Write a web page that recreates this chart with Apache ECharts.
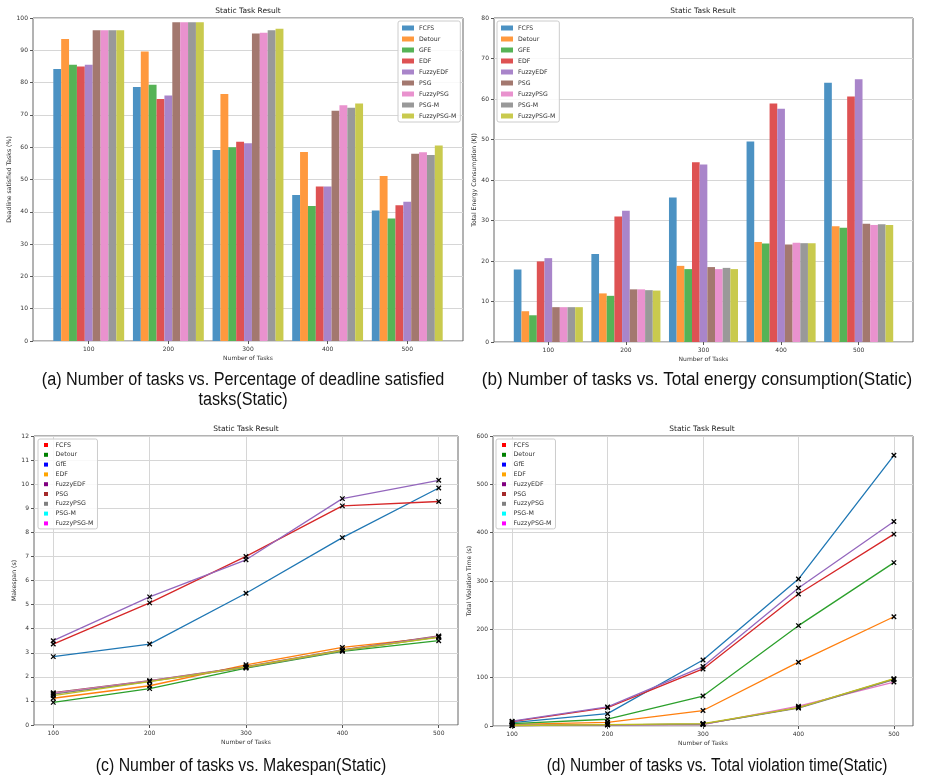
<!DOCTYPE html>
<html><head><meta charset="utf-8">
<script src="https://cdn.jsdelivr.net/npm/echarts@6/dist/echarts.min.js"></script>
<style>html,body{margin:0;padding:0;background:#fff}#c{width:929px;height:777px}</style>
</head><body><div id="c"></div>
<script>
// ---------- data ----------
const tasks = [100, 200, 300, 400, 500];
const tickLabels = ['100', '200', '300', '400', '500'];
const barAlgorithms = ['FCFS', 'Detour', 'GFE', 'EDF', 'FuzzyEDF', 'PSG', 'FuzzyPSG', 'PSG-M', 'FuzzyPSG-M'];
const lineAlgorithms = ['FCFS', 'Detour', 'GfE', 'EDF', 'FuzzyEDF', 'PSG', 'FuzzyPSG', 'PSG-M', 'FuzzyPSG-M'];

// (a) Deadline satisfied tasks (%)
const pctFCFS      = [84.2, 78.6, 59.1, 45.2, 40.4];
const pctDetour    = [93.5, 89.6, 76.5, 58.5, 51.1];
const pctGFE       = [85.5, 79.3, 60.0, 41.8, 37.9];
const pctEDF       = [85.0, 74.9, 61.7, 47.8, 42.0];
const pctFuzzyEDF  = [85.5, 76.0, 61.2, 47.8, 43.1];
const pctPSG       = [96.2, 98.7, 95.2, 71.3, 58.0];
const pctFuzzyPSG  = [96.2, 98.7, 95.4, 73.0, 58.4];
const pctPSGM      = [96.2, 98.7, 96.2, 72.2, 57.6];
const pctFuzzyPSGM = [96.2, 98.7, 96.7, 73.5, 60.5];

// (b) Total energy consumption (KJ)
const engFCFS      = [17.9, 21.7, 35.7, 49.5, 64.0];
const engDetour    = [7.6, 12.0, 18.8, 24.7, 28.6];
const engGFE       = [6.6, 11.4, 18.0, 24.3, 28.2];
const engEDF       = [19.9, 31.0, 44.4, 58.9, 60.6];
const engFuzzyEDF  = [20.7, 32.4, 43.8, 57.6, 64.9];
const engPSG       = [8.6, 13.0, 18.5, 24.1, 29.2];
const engFuzzyPSG  = [8.6, 13.0, 18.0, 24.5, 28.9];
const engPSGM      = [8.6, 12.8, 18.3, 24.4, 29.1];
const engFuzzyPSGM = [8.6, 12.7, 18.0, 24.4, 28.9];

// (c) Makespan (s)
const mksFCFS      = [2.84, 3.36, 5.47, 7.78, 9.84];
const mksDetour    = [1.11, 1.63, 2.50, 3.22, 3.65];
const mksGfE       = [0.94, 1.51, 2.36, 3.06, 3.50];
const mksEDF       = [3.36, 5.07, 7.00, 9.10, 9.28];
const mksFuzzyEDF  = [3.50, 5.32, 6.86, 9.40, 10.16];
const mksPSG       = [1.34, 1.84, 2.42, 3.12, 3.70];
const mksFuzzyPSG  = [1.32, 1.83, 2.40, 3.10, 3.68];
const mksPSGM      = [1.28, 1.81, 2.38, 3.08, 3.66];
const mksFuzzyPSGM = [1.22, 1.80, 2.40, 3.10, 3.64];

// (d) Total violation time (s)
const vioFCFS      = [7, 25.5, 136.5, 304, 560];
const vioDetour    = [3.5, 7.6, 32, 132, 226];
const vioGfE       = [5, 14, 62, 207.6, 338];
const vioEDF       = [9, 38, 118, 273, 397];
const vioFuzzyEDF  = [10, 39.5, 123, 285.5, 423];
const vioPSG       = [1, 2.5, 4, 38, 97];
const vioFuzzyPSG  = [1, 2.5, 3, 41, 91];
const vioPSGM      = [1, 2.5, 4, 37, 96];
const vioFuzzyPSGM = [1, 3, 5, 38, 98];

const pctSeries = [pctFCFS, pctDetour, pctGFE, pctEDF, pctFuzzyEDF, pctPSG, pctFuzzyPSG, pctPSGM, pctFuzzyPSGM];
const engSeries = [engFCFS, engDetour, engGFE, engEDF, engFuzzyEDF, engPSG, engFuzzyPSG, engPSGM, engFuzzyPSGM];
const mksSeries = [mksFCFS, mksDetour, mksGfE, mksEDF, mksFuzzyEDF, mksPSG, mksFuzzyPSG, mksPSGM, mksFuzzyPSGM];
const vioSeries = [vioFCFS, vioDetour, vioGfE, vioEDF, vioFuzzyEDF, vioPSG, vioFuzzyPSG, vioPSGM, vioFuzzyPSGM];

// ---------- styles ----------
const barColors = ['#4c92c3', '#ff993e', '#56b356', '#de5253', '#a985ca', '#a3786f', '#e992ce', '#999999', '#c9ca4e'];
const lineColors = ['#1f77b4', '#ff7f0e', '#2ca02c', '#d62728', '#9467bd', '#8c564b', '#e377c2', '#7f7f7f', '#bcbd22'];
const markerLegendColors = ['#ff0000', '#008000', '#0000ff', '#ffa500', '#800080', '#a52a2a', '#808080', '#00ffff', '#ff00ff'];

const FONT = 'DejaVu Sans';
const TXT = '#333';
const CAPFONT = '"Liberation Sans", Arial, sans-serif';

const chart = echarts.init(document.getElementById('c'), null, {renderer: 'canvas'});

const gridBase = {show: true, borderColor: '#666', borderWidth: 1, backgroundColor: 'transparent', containLabel: false, outerBoundsMode: 'none'};
const grids = [
  Object.assign({left: 33, top: 18, width: 430, height: 323}, gridBase),
  Object.assign({left: 494, top: 18, width: 419, height: 324}, gridBase),
  Object.assign({left: 34, top: 436, width: 424, height: 289}, gridBase),
  Object.assign({left: 493, top: 436, width: 420, height: 290}, gridBase)
];

function xAxisDef(gi, min, max, vgrid) {
  return {
    gridIndex: gi, type: 'value', min: min, max: max,
    name: 'Number of Tasks', nameLocation: 'middle', nameGap: 14,
    nameTextStyle: {fontFamily: FONT, fontSize: 6, color: TXT},
    axisLine: {show: false},
    axisTick: {show: true, customValues: tasks, length: 3, lineStyle: {color: '#555'}},
    axisLabel: {customValues: tasks, fontFamily: FONT, fontSize: 6, color: TXT, margin: 5,
      formatter: v => tickLabels[tasks.indexOf(v)] || ''},
    splitLine: {show: vgrid, customValues: tasks, lineStyle: {color: '#d6d6d6', width: 1}}
  };
}
function yAxisDef(gi, max, interval, name, nameGap) {
  return {
    gridIndex: gi, type: 'value', min: 0, max: max, interval: interval,
    name: name, nameLocation: 'middle', nameGap: nameGap, nameRotate: 90,
    nameTextStyle: {fontFamily: FONT, fontSize: 6.2, color: TXT},
    axisLine: {show: false},
    axisTick: {show: true, length: 3, lineStyle: {color: '#555'}},
    axisLabel: {fontFamily: FONT, fontSize: 6, color: TXT, margin: 5},
    splitLine: {show: true, lineStyle: {color: '#d6d6d6', width: 1}}
  };
}

const series = [];
function addBars(gi, arrs) {
  arrs.forEach((arr, i) => {
    series.push({
      type: 'bar', name: barAlgorithms[i], xAxisIndex: gi, yAxisIndex: gi,
      data: tasks.map((t, k) => [t, arr[k]]),
      barGap: '0%', barCategoryGap: '11%',
      itemStyle: {color: barColors[i]},
      emphasis: {disabled: true}
    });
  });
}
function addLines(gi, arrs) {
  arrs.forEach((arr, i) => {
    series.push({
      type: 'line', name: lineAlgorithms[i], xAxisIndex: gi, yAxisIndex: gi,
      data: tasks.map((t, k) => [t, arr[k]]),
      symbol: 'path://M0,0L10,10M10,0L0,10', symbolSize: 4.5, showAllSymbol: true,
      itemStyle: {color: '#000', borderColor: '#000', borderWidth: 1.3},
      lineStyle: {color: lineColors[i], width: 1.3},
      emphasis: {disabled: true}
    });
  });
}
addBars(0, pctSeries);
addBars(1, engSeries);
addLines(2, mksSeries);
addLines(3, vioSeries);

const legendBase = {
  orient: 'vertical', backgroundColor: 'rgba(255,255,255,0.85)',
  borderColor: '#cccccc', borderWidth: 1, borderRadius: 2,
  selectedMode: false, align: 'left'
};
const barLegend = (left) => Object.assign({}, legendBase, {
  left: left, top: 21, padding: [3, 4, 2, 4],
  itemWidth: 12, itemHeight: 5, itemGap: 3, icon: 'rect',
  textStyle: {fontFamily: FONT, fontSize: 6.2, color: TXT, lineHeight: 8},
  data: barAlgorithms.map(n => ({name: n}))
});
const markerLegend = (left) => Object.assign({}, legendBase, {
  left: left, top: 439, padding: [2.5, 4, 2, 6],
  itemWidth: 9, itemHeight: 4, itemGap: 2.8, icon: 'path://M0,0L10,0L10,10L0,10Z',
  textStyle: {fontFamily: FONT, fontSize: 6.3, color: TXT, lineHeight: 7},
  data: lineAlgorithms.map((n, i) => ({name: n, itemStyle: {color: markerLegendColors[i], borderWidth: 0}}))
});

function txt(x, y, text, size, font, color, sx) {
  return {type: 'text', x: x, y: y, silent: true, scaleX: sx || 1,
    style: {text: text, fontSize: size, fontFamily: font, fill: color, align: 'center', verticalAlign: 'middle'}};
}

chart.setOption({
  animation: false,
  backgroundColor: '#fff',
  grid: grids,
  xAxis: [xAxisDef(0, 30, 570, false), xAxisDef(1, 30, 570, false), xAxisDef(2, 80, 520, true), xAxisDef(3, 80, 520, true)],
  yAxis: [
    yAxisDef(0, 100, 10, 'Deadline satisfied Tasks (%)', 19),
    yAxisDef(1, 80, 10, 'Total Energy Consumption (KJ)', 14.5),
    yAxisDef(2, 12, 1, 'Makespan (s)', 15.5),
    yAxisDef(3, 600, 100, 'Total Violation Time (s)', 19.5)
  ],
  legend: [barLegend(398), barLegend(497), markerLegend(38), markerLegend(496)],
  series: series,
  graphic: [
    txt(248, 11, 'Static Task Result', 7.5, FONT, '#222'),
    txt(703, 11, 'Static Task Result', 7.5, FONT, '#222'),
    txt(246, 429, 'Static Task Result', 7.5, FONT, '#222'),
    txt(702, 429, 'Static Task Result', 7.5, FONT, '#222'),
    txt(243, 380, '(a) Number of tasks vs. Percentage of deadline satisfied', 18, CAPFONT, '#111', 0.9),
    txt(243, 400, 'tasks(Static)', 18, CAPFONT, '#111', 0.9),
    txt(697, 380, '(b) Number of tasks vs. Total energy consumption(Static)', 18, CAPFONT, '#111', 0.95),
    txt(241, 766, '(c) Number of tasks vs. Makespan(Static)', 18, CAPFONT, '#111', 0.88),
    txt(717, 766, '(d) Number of tasks vs. Total violation time(Static)', 18, CAPFONT, '#111', 0.86)
  ]
});
</script>
</body></html>
